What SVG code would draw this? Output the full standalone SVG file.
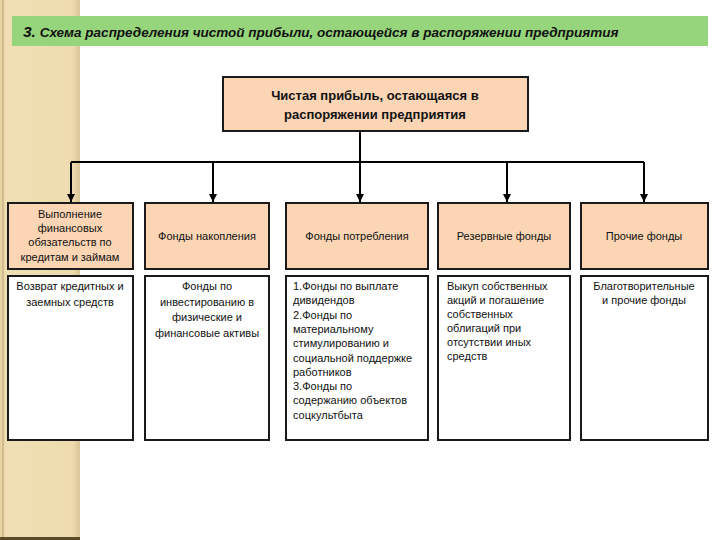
<svg xmlns="http://www.w3.org/2000/svg" width="720" height="540" viewBox="0 0 720 540">
<defs>
<marker id="arr" viewBox="0 0 10 10" refX="10" refY="5" markerWidth="4" markerHeight="4" orient="auto" markerUnits="strokeWidth">
<path d="M0,0 L10,5 L0,10 z" fill="#000"/>
</marker>
<linearGradient id="stripe" x1="0" y1="0" x2="1" y2="0">
<stop offset="0" stop-color="#E6D2A0"/>
<stop offset="0.08" stop-color="#F0DFB4"/>
<stop offset="0.9" stop-color="#EEDCB0"/>
<stop offset="1" stop-color="#D9C697"/>
</linearGradient>
</defs>
<style>
.peach{fill:#FBD5B4;stroke:#1a1a1a;stroke-width:2}
.white{fill:#ffffff;stroke:#1a1a1a;stroke-width:2}
.t{font-family:"Liberation Sans",Arial,sans-serif;font-size:11px;fill:#111}
.c{text-anchor:middle}
.conn{fill:none;stroke:#000;stroke-width:2}
.title{font-family:"Liberation Sans",Arial,sans-serif;font-size:13.5px;font-style:italic;font-weight:bold;fill:#111}
.top{font-family:"Liberation Sans",Arial,sans-serif;font-size:13px;font-weight:bold;fill:#111;text-anchor:middle}
</style>
<rect x="0" y="0" width="720" height="540" fill="#ffffff"/>
<rect x="0" y="0" width="80" height="540" fill="url(#stripe)"/>
<line x1="3" y1="0" x2="3" y2="540" stroke="#C9B385" stroke-width="1.5"/>
<rect x="0" y="537" width="80" height="3" fill="#5a4a2a"/>
<g id="title">
<rect x="12" y="16" width="696" height="30" fill="#96D57B"/>
<text class="title" x="23" y="37"><tspan font-size="15.5">3.</tspan> Схема распределения чистой прибыли, остающейся в распоряжении предприятия</text>
</g>
<g id="root">
<rect class="peach" x="223" y="77" width="305" height="54"/>
<text class="top" x="375" y="100">Чистая прибыль, остающаяся в</text>
<text class="top" x="375" y="119">распоряжении предприятия</text>
</g>
<g id="connectors">
<path class="conn" d="M360,131 V162"/>
<path class="conn" d="M71,162 H644"/>
<path class="conn" d="M71,162 V202" marker-end="url(#arr)"/>
<path class="conn" d="M213,162 V202" marker-end="url(#arr)"/>
<path class="conn" d="M360,162 V202" marker-end="url(#arr)"/>
<path class="conn" d="M507,162 V202" marker-end="url(#arr)"/>
<path class="conn" d="M644,162 V202" marker-end="url(#arr)"/>
</g>
<g id="n1">
<rect class="peach" x="8" y="203" width="125" height="66"/>
<text class="t c" x="70" y="218">Выполнение</text>
<text class="t c" x="70" y="232">финансовых</text>
<text class="t c" x="70" y="246">обязательств  по</text>
<text class="t c" x="70" y="261">кредитам и займам</text>
</g>
<g id="n2">
<rect class="peach" x="145" y="203" width="124" height="66"/>
<text class="t c" x="207" y="240">Фонды накопления</text>
</g>
<g id="n3">
<rect class="peach" x="286" y="203" width="142" height="66"/>
<text class="t c" x="357" y="240">Фонды потребления</text>
</g>
<g id="n4">
<rect class="peach" x="438" y="203" width="132" height="66"/>
<text class="t c" x="504" y="240">Резервные фонды</text>
</g>
<g id="n5">
<rect class="peach" x="581" y="203" width="127" height="66"/>
<text class="t c" x="644" y="240">Прочие фонды</text>
</g>
<g id="d1">
<rect class="white" x="8" y="276" width="125" height="164"/>
<text class="t c" x="70" y="290">Возврат кредитных и</text>
<text class="t c" x="70" y="306">заемных средств</text>
</g>
<g id="d2">
<rect class="white" x="145" y="276" width="124" height="164"/>
<text class="t c" x="207" y="290">Фонды по</text>
<text class="t c" x="207" y="306">инвестированию в</text>
<text class="t c" x="207" y="321">физические и</text>
<text class="t c" x="207" y="337">финансовые  активы</text>
</g>
<g id="d3">
<rect class="white" x="286" y="276" width="142" height="164"/>
<text class="t" x="293" y="290">1.Фонды по выплате</text>
<text class="t" x="293" y="304">дивидендов</text>
<text class="t" x="293" y="319">2.Фонды по</text>
<text class="t" x="293" y="333">материальному</text>
<text class="t" x="293" y="347">стимулированию и</text>
<text class="t" x="293" y="362">социальной поддержке</text>
<text class="t" x="293" y="376">работников</text>
<text class="t" x="293" y="390"> 3.Фонды по</text>
<text class="t" x="293" y="404">содержанию  объектов</text>
<text class="t" x="293" y="419">соцкультбыта</text>
</g>
<g id="d4">
<rect class="white" x="438" y="276" width="132" height="164"/>
<text class="t" x="447" y="290">Выкуп собственных</text>
<text class="t" x="447" y="304">акций и погашение</text>
<text class="t" x="447" y="318">собственных</text>
<text class="t" x="447" y="332">облигаций при</text>
<text class="t" x="447" y="346">отсутствии иных</text>
<text class="t" x="447" y="360">средств</text>
</g>
<g id="d5">
<rect class="white" x="581" y="276" width="127" height="164"/>
<text class="t c" x="644" y="290">Благотворительные</text>
<text class="t c" x="644" y="304">и прочие фонды</text>
</g>
</svg>
